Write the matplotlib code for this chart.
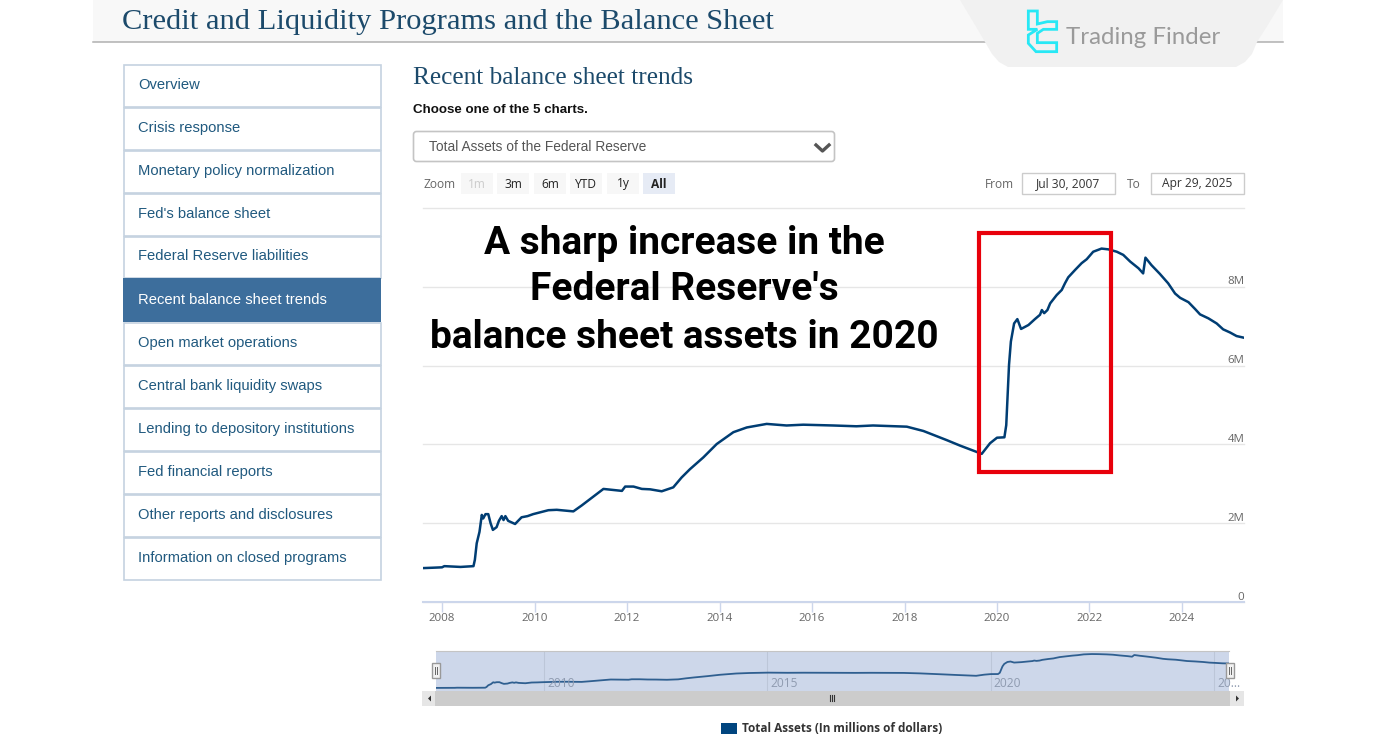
#!/usr/bin/env python3
"""Fed total assets chart, with the page around it (sidebar, header, logo)."""

import matplotlib
matplotlib.use("Agg")
import matplotlib.pyplot as plt
from matplotlib.patches import FancyBboxPatch, Polygon, Rectangle

W, H = 1379, 741

# Total assets in trillions of dollars
years = [
    2007.58, 2007.80, 2008.00, 2008.05, 2008.40, 2008.68, 2008.71, 2008.75, 2008.81, 2008.86,
    2008.89, 2008.94, 2009.00, 2009.05, 2009.10, 2009.18, 2009.23, 2009.29, 2009.33, 2009.37,
    2009.43, 2009.58, 2009.72, 2009.85, 2009.97, 2010.30, 2010.48, 2010.84, 2011.02, 2011.49,
    2011.89, 2011.96, 2012.14, 2012.32, 2012.50, 2012.75, 2013.00, 2013.18, 2013.36, 2013.65,
    2013.94, 2014.30, 2014.59, 2015.02, 2015.45, 2015.81, 2016.46, 2016.96, 2017.32, 2018.05,
    2018.41, 2018.91, 2019.20, 2019.67, 2019.85, 2020.00, 2020.16, 2020.20, 2020.26, 2020.30,
    2020.37, 2020.44, 2020.52, 2020.68, 2020.82, 2020.93, 2020.97, 2021.02, 2021.09, 2021.15,
    2021.29, 2021.40, 2021.47, 2021.54, 2021.69, 2021.83, 2021.94, 2022.08, 2022.26, 2022.41,
    2022.59, 2022.73, 2022.88, 2023.06, 2023.16, 2023.21, 2023.34, 2023.52, 2023.70, 2023.85,
    2023.96, 2024.14, 2024.28, 2024.39, 2024.57, 2024.75, 2024.89, 2025.04, 2025.18, 2025.33,
]
assets = [
    0.86, 0.87, 0.88, 0.91, 0.89, 0.91, 1.07, 1.49, 1.78, 2.21,
    2.12, 2.23, 2.23, 2.00, 1.83, 1.90, 2.06, 2.18, 2.08, 2.18,
    2.06, 1.98, 2.15, 2.18, 2.23, 2.33, 2.34, 2.30, 2.45, 2.87,
    2.82, 2.93, 2.93, 2.87, 2.86, 2.81, 2.91, 3.16, 3.37, 3.67,
    4.01, 4.31, 4.43, 4.52, 4.48, 4.50, 4.48, 4.46, 4.48, 4.45,
    4.34, 4.11, 3.97, 3.76, 4.03, 4.17, 4.18, 4.49, 6.02, 6.61,
    7.07, 7.18, 6.93, 7.03, 7.18, 7.29, 7.41, 7.33, 7.41, 7.58,
    7.79, 7.92, 8.09, 8.24, 8.43, 8.60, 8.70, 8.89, 8.97, 8.95,
    8.89, 8.81, 8.64, 8.47, 8.34, 8.74, 8.55, 8.33, 8.09, 7.83,
    7.72, 7.61, 7.44, 7.30, 7.20, 7.07, 6.92, 6.84, 6.75, 6.71,
]
year_ticks = [2008, 2010, 2012, 2014, 2016, 2018, 2020, 2022, 2024]
value_ticks = [0, 2, 4, 6, 8, 10]
value_labels = ["0", "2M", "4M", "6M", "8M", ""]
nav_ticks = [2010, 2015, 2020, 2025]
nav_labels = ["2010", "2015", "2020", "20..."]

menu_items = [
    "Overview", "Crisis response", "Monetary policy normalization", "Fed's balance sheet",
    "Federal Reserve liabilities", "Recent balance sheet trends", "Open market operations",
    "Central bank liquidity swaps", "Lending to depository institutions",
    "Fed financial reports", "Other reports and disclosures", "Information on closed programs",
]
menu_tops = [64, 107, 150, 193, 236, 278, 322, 365, 408, 451, 494, 537, 580]
zoom_buttons = ["1m", "3m", "6m", "YTD", "1y", "All"]
zoom_centers = [477, 513, 550, 586, 623, 659]

NAVY = "#1c4a6b"
LINK = "#20597f"
LINE = "#003d73"
SERIF = "Liberation Serif"
SANS = "Liberation Sans"
CHART = "Open Sans"


def px(size):
    return size * 0.72


def add_axes_px(fig, left, top, right, bottom):
    return fig.add_axes([left / W, 1 - bottom / H, (right - left) / W, (bottom - top) / H])


def add_layer(fig):
    layer = fig.add_axes([0, 0, 1, 1])
    layer.set_xlim(0, W)
    layer.set_ylim(H, 0)
    layer.axis("off")
    return layer


fig = plt.figure(figsize=(W / 100, H / 100), dpi=100, facecolor="white")

# page layer in pixel coordinates
page = add_layer(fig)

# header
page.add_patch(Rectangle((93, 0), 1190, 42, fc="#f8f8f8", ec="none"))
page.plot([93, 1283], [42, 42], color="#b0b0b0", lw=1.1)
page.text(122, 22, "Credit and Liquidity Programs and the Balance Sheet", family=SERIF,
          fontsize=px(30.5), color=NAVY, va="center")

# logo
page.add_patch(Polygon([(960, 0), (978, 30), (985, 42), (992, 54), (999, 62), (1008, 67), (1236, 67),
                        (1245, 62), (1252, 54), (1257, 42), (1266, 28), (1283, 0)],
                       fc="#f1f1f1", ec="none", zorder=2))
logo = [(205, 33), (232, 33), (232, 72), (262, 65), (290, 65), (290, 88), (250, 88), (232, 100),
        (232, 128), (290, 128), (290, 155), (228, 155), (205, 130), (205, 105), (232, 88), (205, 88)]
page.add_patch(Polygon([(960 + x / 3, y / 3) for x, y in logo], fc="none", ec="#27e8f5", lw=2, zorder=3))
page.text(1066, 38, "Trading Finder", family="Lato", fontsize=px(24), color="#9a9a9a",
          va="center", zorder=3)

# sidebar
for i, label in enumerate(menu_items):
    top, bottom = menu_tops[i], menu_tops[i + 1]
    active = label == "Recent balance sheet trends"
    if active:
        page.add_patch(Rectangle((123, top), 258, bottom - top, fc="#3d6e9c", ec="none", zorder=2))
    else:
        page.add_patch(Rectangle((123.5, top + 0.5), 257, bottom - top - 1, fc="white", ec="#c5d2e0", lw=1.2))
    page.text(138, (top + bottom) / 2 - 0.5, label, family=SANS, fontsize=px(14.7),
              color="white" if active else LINK, va="center", zorder=3)

page.text(413, 78, "Recent balance sheet trends", family=SERIF, fontsize=px(25.3), color=NAVY, va="center")
page.text(413, 110, "Choose one of the 5 charts.", family=SANS, fontsize=px(13.4), color="#111111",
          weight="bold", va="center")

# dropdown
page.add_patch(FancyBboxPatch((413.5, 131.5), 421, 30, boxstyle="round,pad=0,rounding_size=3",
                              fc="white", ec="#c4c4c4", lw=1.2))
page.text(429, 147, "Total Assets of the Federal Reserve", family=SANS, fontsize=px(13.8), color="#555555", va="center")
page.plot([816, 822.5, 829], [145, 151, 145], color="#555555", lw=2.4)

# range selector row
page.text(423, 184, "Zoom", family=CHART, fontsize=px(12), color="#666666", va="center")
for label, center in zip(zoom_buttons, zoom_centers):
    on = label == "All"
    page.add_patch(Rectangle((center - 16, 173), 32, 21, fc="#e6ebf5" if on else "#f7f7f7", ec="none"))
    page.text(center, 184, label, family=CHART, fontsize=px(12), ha="center", va="center",
              color="#cccccc" if label == "1m" else "#222222", weight="bold" if on else "normal")
page.text(985, 184, "From", family=CHART, fontsize=px(12), color="#666666", va="center")
page.text(1127, 184, "To", family=CHART, fontsize=px(12), color="#666666", va="center")
for left, right, label in [(1022, 1115, "Jul 30, 2007"), (1151, 1244, "Apr 29, 2025")]:
    page.add_patch(Rectangle((left, 173), right - left, 21, fc="white", ec="#cccccc", lw=1))
    page.text((left + right) / 2, 184, label, family=CHART, fontsize=px(12), color="#333333",
              ha="center", va="center")

# main chart
ax = add_axes_px(fig, 422.6, 208, 1243.5, 602)
ax.patch.set_alpha(0)
ax.plot(years, assets, color=LINE, lw=1.8, solid_joinstyle="round", zorder=3)
ax.set_xlim(2007.58, 2025.33)
ax.set_ylim(0, 10)
ax.set_xticks(year_ticks)
ax.set_xticklabels([str(y) for y in year_ticks], family=CHART, fontsize=px(11.5), color="#666666")
ax.set_yticks(value_ticks)
ax.set_yticklabels([])
ax.tick_params(axis="x", length=7, width=1, color="#ccd6eb", pad=1)
ax.tick_params(axis="y", length=0)
ax.grid(True, axis="y", color="#e6e6e6", lw=1, clip_on=False)
ax.set_axisbelow(True)
for side in ["top", "left", "right"]:
    ax.spines[side].set_visible(False)
ax.spines["bottom"].set_color("#ccd6eb")
ax.spines["bottom"].set_linewidth(1.5)
for value, label in zip(value_ticks, value_labels):
    ax.annotate(label, (1, value), xycoords=("axes fraction", "data"), xytext=(0.5, 3.5),
                textcoords="offset points", ha="right", va="center", family=CHART,
                fontsize=px(11.5), color="#666666")

# navigator
nav = add_axes_px(fig, 436, 651, 1229, 691.5)
nav.set_facecolor("#cdd7ea")
nav.plot(years, assets, color="#2f5f90", lw=1.3)
nav.set_xlim(2007.58, 2025.33)
nav.set_ylim(0, 9.7)
nav.set_xticks(nav_ticks)
nav.set_xticklabels([])
nav.set_yticks([])
nav.tick_params(axis="x", length=0)
nav.grid(True, axis="x", color="#bcc6d8", lw=0.8)
nav.set_axisbelow(True)
for side in ["left", "right", "bottom"]:
    nav.spines[side].set_visible(False)
nav.spines["top"].set_color("#c4c4c4")
for year, label in zip(nav_ticks, nav_labels):
    nav.annotate(label, (year, 0), xycoords="data", xytext=(2, 6), textcoords="offset points",
                 ha="left", va="center", family=CHART, fontsize=px(12), color="#8f9bb0",
                 annotation_clip=False)

# callout, handles and scrollbar on top of the chart
over = add_layer(fig)
for x in (436, 1229.5):
    over.add_patch(Rectangle((x - 4, 663), 8, 15, fc="#f2f2f2", ec="#999999", lw=1))
    over.plot([x - 1, x - 1], [667, 674], color="#666666", lw=0.7)
    over.plot([x + 1, x + 1], [667, 674], color="#666666", lw=0.7)
over.add_patch(Rectangle((422, 691), 822, 15, fc="#e6e6e6", ec="none"))
over.add_patch(Rectangle((435, 691), 795, 15, fc="#cccccc", ec="none"))
for x in (830, 832, 834):
    over.plot([x, x], [695, 701], color="#333333", lw=0.8)
over.add_patch(Polygon([(431, 695.5), (431, 701.5), (428, 698.5)], fc="#333333", ec="none"))
over.add_patch(Polygon([(1236, 695.5), (1236, 701.5), (1239, 698.5)], fc="#333333", ec="none"))

# legend
over.add_patch(Rectangle((721, 723), 16, 11, fc="#00457f", ec="none"))
over.text(742, 728, "Total Assets (In millions of dollars)", family=CHART, weight="bold",
          fontsize=px(11.8), color="#333333", va="center")

for y, line in zip([243, 290, 338], ["A sharp increase in the", "Federal Reserve's",
                                     "balance sheet assets in 2020"]):
    over.text(684.5, y, line, family="Roboto", weight="bold", fontsize=px(38.9), color="black",
              ha="center", va="center")
over.add_patch(Rectangle((979, 233), 132, 239, fc="none", ec="#e8000b", lw=3))

fig.savefig("out.png", dpi=100)
plt.close(fig)
